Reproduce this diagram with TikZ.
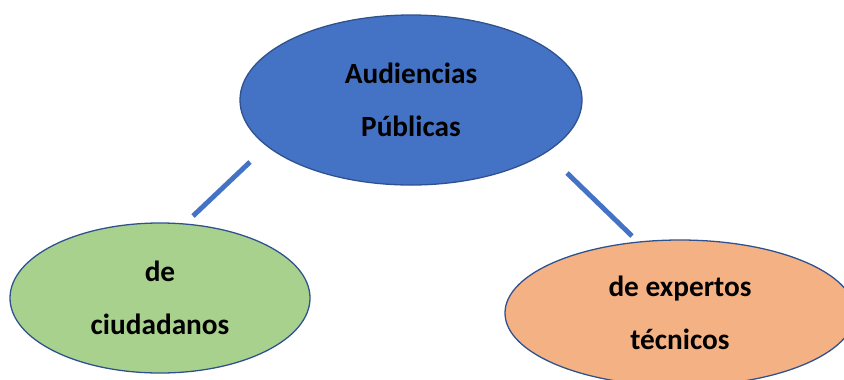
\documentclass[tikz,border=0pt]{standalone}
\usepackage{fontspec}
\setmainfont{Carlito}
\usetikzlibrary{shapes.geometric}
\definecolor{azul}{HTML}{4472C4}
\definecolor{borde}{HTML}{2F528F}
\definecolor{verde}{HTML}{A9D18E}
\definecolor{naranja}{HTML}{F4B183}
\tikzset{
	burbuja/.style={ellipse, draw=borde, line width=1.1pt, align=center,
		font=\bfseries\fontsize{25}{45}\selectfont, inner sep=0pt},
	enlace/.style={draw=azul, line width=4.2pt}
}
\begin{document}
\begin{tikzpicture}[x=0.03cm, y=-0.03cm]
			\useasboundingbox (0, 0) rectangle (844, 379);
			\node[burbuja, fill=azul, minimum width=10.26cm, minimum height=5.1cm] (aud) at (411, 100) {Audiencias\\Públicas};
			\node[burbuja, fill=verde, minimum width=9cm, minimum height=4.5cm] (ciu) at (160, 298) {de\\ciudadanos};
			\node[burbuja, fill=naranja, minimum width=10.5cm, minimum height=4.38cm] (exp) at (680, 313) {de expertos\\técnicos};
			\coordinate (a1) at (250, 162);
			\coordinate (a2) at (193, 216);
			\coordinate (b1) at (567, 173);
			\coordinate (b2) at (632, 236);
			\draw[enlace] (a1) -- (a2);
			\draw[enlace] (b1) -- (b2);
		\end{tikzpicture}
\end{document}
